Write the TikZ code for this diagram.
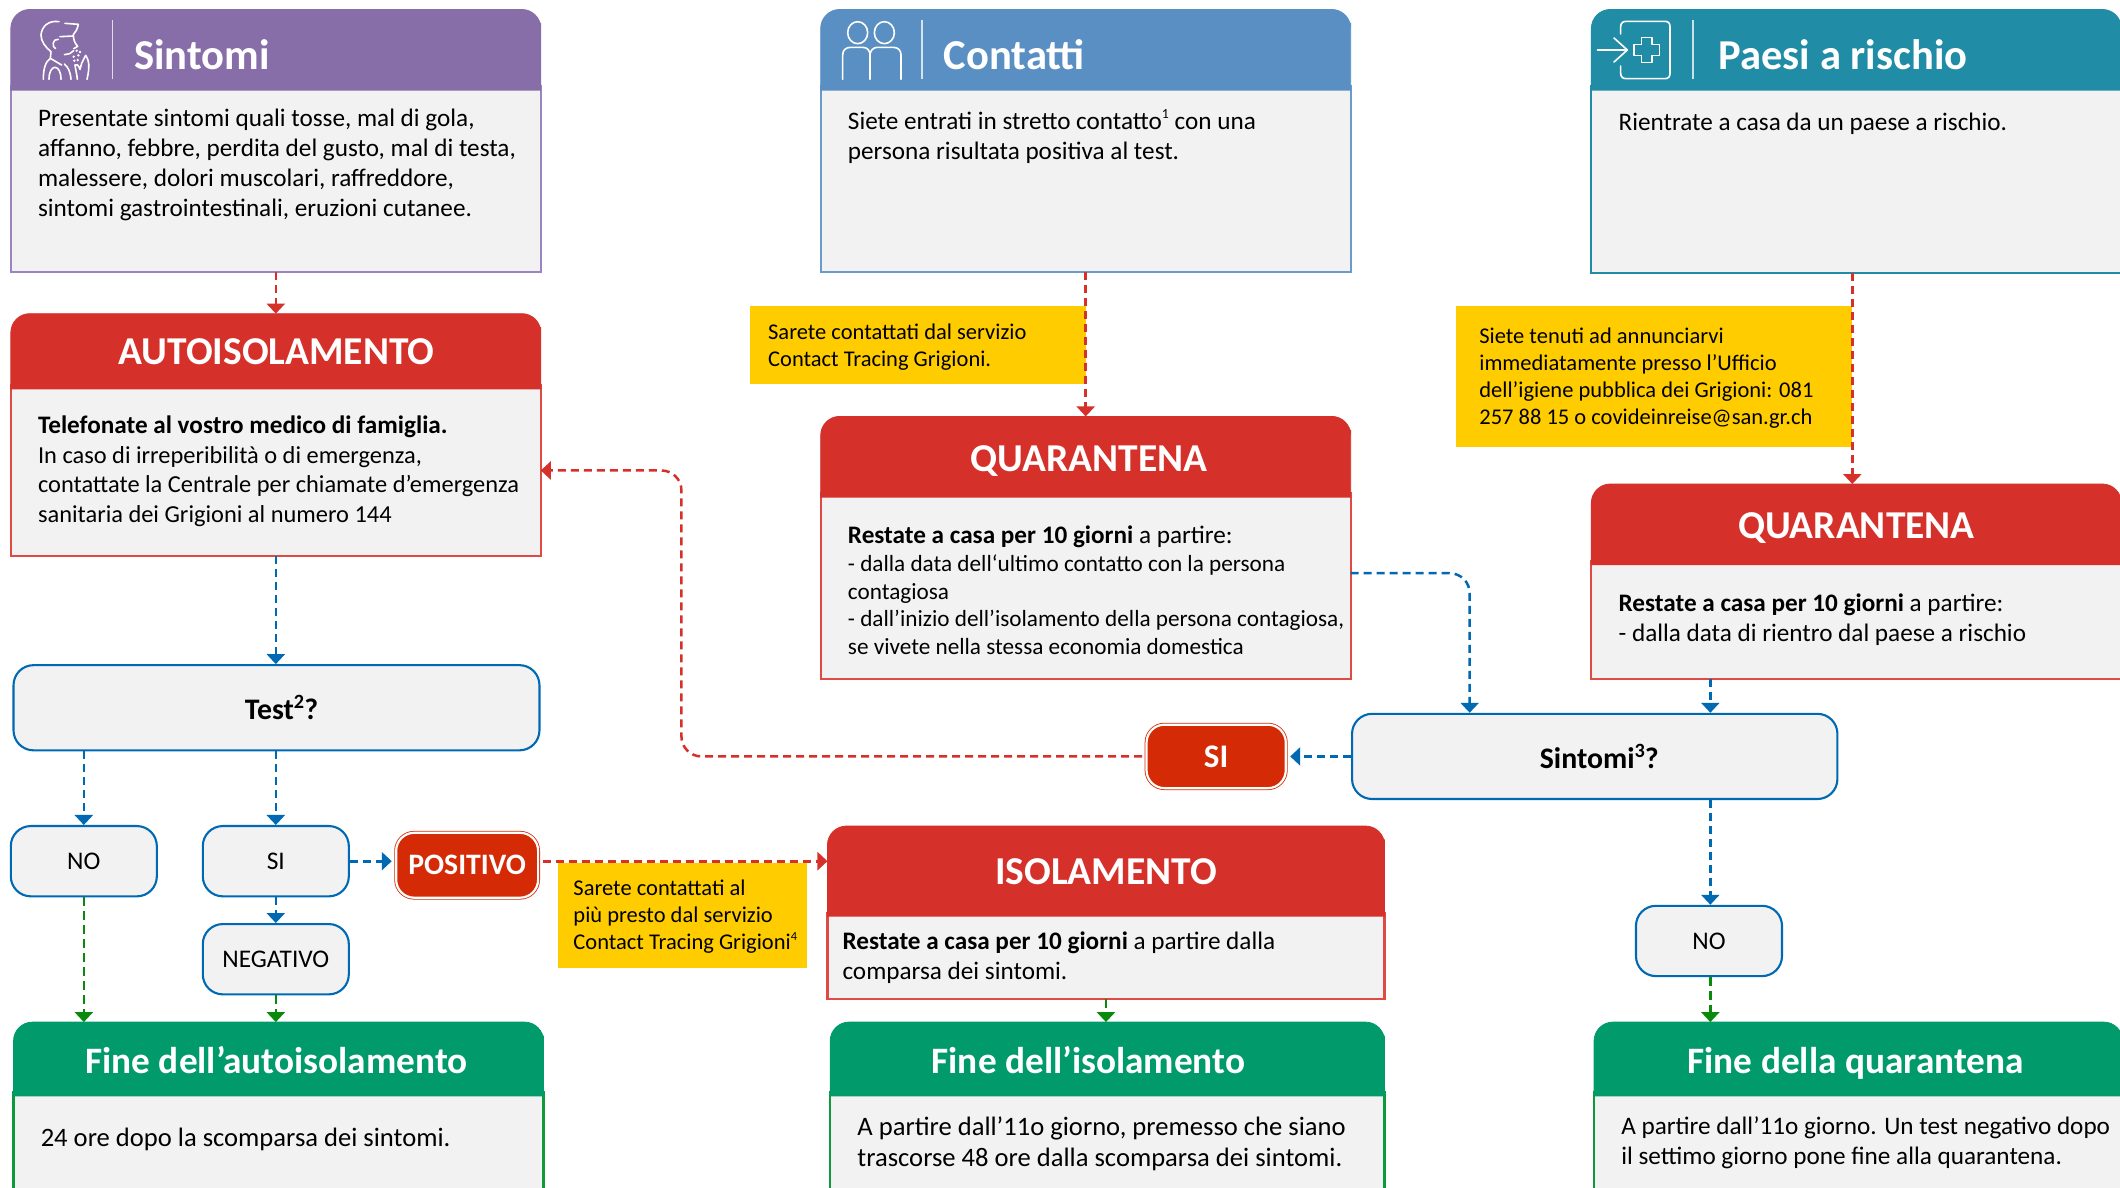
\documentclass[tikz,border=0pt]{standalone}
\usepackage{fontspec}
\setmainfont{Carlito}
\usetikzlibrary{arrows.meta,fit,calc}
\definecolor{panel}{HTML}{F2F2F2}
\definecolor{purh}{HTML}{886EA8}\definecolor{purb}{HTML}{9C84C0}
\definecolor{bluh}{HTML}{5A8FC3}\definecolor{blub}{HTML}{6A9CCB}
\definecolor{tealh}{HTML}{218CA6}\definecolor{tealb}{HTML}{218CA6}
\definecolor{redh}{HTML}{D5302A}\definecolor{redb}{HTML}{E04A44}
\definecolor{grnh}{HTML}{009A6B}\definecolor{grnb}{HTML}{0E9A3A}
\definecolor{flow}{HTML}{0069B4}
\definecolor{redb2}{HTML}{D42A06}
\definecolor{yel}{HTML}{FFCC00}
\definecolor{dgreen}{HTML}{0A8A0A}
\definecolor{dred}{HTML}{D5302A}
\newcommand\st{\rule{0pt}{20pt}}
\newcommand\sps[1]{\raisebox{0.4em}{\scalebox{0.55}{#1}}}
\newcommand\spb[1]{\raisebox{0.38em}{\scalebox{0.68}{#1}}}
\newcommand\card[8]{%
  \draw[draw=#8,fill=panel,line width=2.1pt] (#2,#5-3) rectangle (#4,#6);
  \fill[#7] (#2,#5) -- (#2,#3+24) [rounded corners=19pt] -- (#2,#3) -- (#4,#3) -- (#4,#3+24) [sharp corners] -- (#4,#5) -- cycle;
  \draw[draw=#7,line width=0.8pt] (#2,#5) -- (#2,#3+24) [rounded corners=19pt] -- (#2,#3) -- (#4,#3) -- (#4,#3+24) [sharp corners] -- (#4,#5);
  \node[fit={(#2,#3)(#4,#6)},inner sep=0pt,outer sep=0pt] (#1) {};
}
\tikzset{
  txt/.style={anchor=north west,inner sep=0pt,align=left,font=\fontsize{25.2}{30.2}\selectfont},
  txts/.style={anchor=north west,inner sep=0pt,align=left,font=\fontsize{23.2}{27.5}\selectfont},
  txtb/.style={anchor=north west,inner sep=0pt,align=left,font=\fontsize{26.6}{31}\selectfont},
  ynote/.style={anchor=north west,inner sep=0pt,align=left,font=\fontsize{22.5}{27}\selectfont},
  ybox/.style={fill=yel},
  head/.style={text=white,font=\fontsize{39.5}{48}\bfseries\selectfont,inner sep=0pt,anchor=base},
  headf/.style={text=white,font=\fontsize{37.3}{48}\bfseries\selectfont,inner sep=0pt,anchor=base},
  headl/.style={text=white,font=\fontsize{42.6}{48}\bfseries\selectfont,inner sep=0pt,anchor=base west},
  pill/.style={draw=flow,fill=panel,line width=2.1pt,rounded corners=20pt,inner sep=0pt,font=\fontsize{25.4}{30}\selectfont},
  qpill/.style={pill,font=\fontsize{29.8}{34}\bfseries\selectfont},
  rpill/.style={draw=redb2,double=white,double distance=2.2pt,line width=0.8pt,fill=redb2,rounded corners=18pt,inner sep=0pt,text=white,font=\fontsize{29.7}{34}\bfseries\selectfont},
  tip/.style={-{Triangle[length=10pt,width=18pt]}},
  rarr/.style={tip,draw=dred,line width=2.5pt,dash pattern=on 8pt off 5pt},
  barr/.style={tip,draw=flow,line width=2.5pt,dash pattern=on 8pt off 5pt},
  garr/.style={tip,draw=dgreen,line width=2.5pt,dash pattern=on 9pt off 5pt},
  ico/.style={draw=white,line width=1.6pt,line cap=round,line join=round},
  divi/.style={draw=white,draw opacity=0.75,line width=1.7pt},
}
\begin{document}
\begin{tikzpicture}[x=1.35204pt,y=-1.35194pt]
\fill[white] (0,0) rectangle (1568,878);
\clip (0,0) rectangle (1568,878);
\useasboundingbox (0,0) rectangle (1568,878);

% ---- cards
\card{sint}{8}{7}{400}{67}{201}{purh}{purb}
\card{cont}{607}{7}{999}{67}{201}{bluh}{blub}
\card{paesi}{1177}{7}{1569}{67}{202}{tealh}{tealb}
\card{auto}{8}{232}{400}{288}{411}{redh}{redb}
\card{qa}{607}{308}{999}{368}{502}{redh}{redb}
\card{qb}{1177}{358}{1569}{418}{502}{redh}{redb}
\card{iso}{612}{611}{1024}{678}{739}{redh}{redb}
\card{fa}{10}{756}{402}{811}{900}{grnh}{grnb}
\card{fb}{614}{756}{1024}{811}{900}{grnh}{grnb}
\card{fc}{1179}{756}{1570}{811}{900}{grnh}{grnb}

% ---- header titles
\node[headl] (tsint) at (99,51.2) {Sintomi};
\node[headl] (tcont) at (698,51.2) {Contatti};
\node[headl] (tpaesi) at (1271,51.2) {Paesi a rischio};
\node[head] (tauto) at (204.5,269.5) {AUTOISOLAMENTO};
\node[head] (tqa) at (805.5,348.5) {QUARANTENA};
\node[head] (tqb) at (1373,398.5) {QUARANTENA};
\node[head] (tiso) at (818,654.5) {ISOLAMENTO};
\node[headf] (tfa) at (204.5,794) {Fine dell’autoisolamento};
\node[headf] (tfb) at (805,794) {Fine dell’isolamento};
\node[headf] (tfc) at (1372.5,794) {Fine della quarantena};

% ---- header dividers
\draw[divi] (83.1,14.8) -- (83.1,58.4);
\draw[divi] (681.7,14.8) -- (681.7,58.4);
\draw[divi] (1252,14.8) -- (1252,58.4);

% ---- icon: coughing person
\begin{scope}[shift={(18.49,7.4)},x=0.33333pt,y=-0.33333pt,ico]
\draw (102,35) .. controls (70,30) and (50,50) .. (48,75) .. controls (48,95) and (62,112) .. (78,125) -- (76,145) .. controls (62,155) and (55,175) .. (55,208);
\draw (120,40) -- (160,43) .. controls (157,58) and (152,66) .. (145,74) .. controls (145,90) and (150,100) .. (158,109) -- (146,116);
\draw (105,80) -- (145,78);
\draw (146,122) -- (134,131) -- (118,134);
\draw (100,88) .. controls (82,85) and (80,112) .. (92,116);
\draw (76,145) -- (110,165);
\draw (72,208) .. controls (72,160) and (108,160) .. (108,208);
\draw (138,208) .. controls (136,185) and (130,172) .. (118,162);
\draw (157,208) .. controls (156,195) and (152,180) .. (150,165) .. controls (155,160) and (160,165) .. (165,178) -- (170,160) -- (182,136) .. controls (192,150) and (195,170) .. (186,208);
\fill[white] (155,122) circle (4) (165,126) circle (4) (146,140) circle (4) (160,136) circle (4) (158,150) circle (4) (148,152) circle (4);
\end{scope}

% ---- icon: two persons
\begin{scope}[shift={(606.5,7.4)},x=0.33333pt,y=-0.33333pt,ico]
\draw (113,68) ellipse (30 and 33);
\draw (193,68) ellipse (30 and 33);
\draw (68,208) -- (68,135) .. controls (68,120) and (78,112) .. (92,112) -- (128,112) .. controls (142,112) and (150,122) .. (150,135) -- (150,208);
\draw (150,135) .. controls (150,122) and (160,112) .. (172,112) -- (220,112) .. controls (235,112) and (243,122) .. (243,135) -- (243,208);
\end{scope}

% ---- icon: arrow into a box with a cross
\begin{scope}[shift={(1176,7.4)},x=0.33333pt,y=-0.33333pt,ico]
\draw (92,72) -- (92,50) .. controls (92,40) and (98,34) .. (108,34) -- (225,34) .. controls (235,34) and (240,40) .. (240,50) -- (240,190) .. controls (240,200) and (235,206) .. (225,206) -- (108,206) .. controls (98,206) and (92,200) .. (92,190) -- (92,168);
\draw (22,120) -- (112,120) (72,84) -- (112,120) -- (72,156);
\draw (154,82) -- (186,82) -- (186,104) -- (208,104) -- (208,136) -- (186,136) -- (186,158) -- (154,158) -- (154,136) -- (132,136) -- (132,104) -- (154,104) -- cycle;
\end{scope}

% ---- body texts
\node[txt] (bsint) at (28,78.5) {\st Presentate sintomi quali tosse, mal di gola,\\affanno, febbre, perdita del gusto, mal di testa,\\malessere, dolori muscolari, raffreddore,\\sintomi gastrointestinali, eruzioni cutanee.};
\node[txt] (bcont) at (627,80.5) {\st Siete entrati in stretto contatto\sps{1} con una\\persona risultata positiva al test.};
\node[txt] (bpaesi) at (1197,81.5) {\st Rientrate a casa da un paese a rischio.};
\node[txt,font=\fontsize{24.4}{29.8}\selectfont] (bauto) at (28,305.5) {\st\fontsize{25.2}{29.8}\selectfont\textbf{Telefonate al vostro medico di famiglia.}\\In caso di irreperibilità o di emergenza,\\contattate la Centrale per chiamate d’emergenza\\sanitaria dei Grigioni al numero 144};
\node[txt] (bqa1) at (627,387) {\st\textbf{Restate a casa per 10 giorni} a partire:};
\node[txts] (bqa2) at (627,408) {\st- dalla data dell‘ultimo contatto con la persona\\contagiosa\\- dall’inizio dell’isolamento della persona contagiosa,\\se vivete nella stessa economia domestica};
\node[txt] (bqb) at (1197,437) {\st\textbf{Restate a casa per 10 giorni} a partire:\\- dalla data di rientro dal paese a rischio};
\node[txt] (biso) at (623,687) {\st\textbf{Restate a casa per 10 giorni} a partire dalla\\comparsa dei sintomi.};
\node[txtb] (bfa) at (30,833) {\st 24 ore dopo la scomparsa dei sintomi.};
\node[txtb] (bfb) at (634,825) {\st A partire dall’11o giorno, premesso che siano\\trascorse 48 ore dalla scomparsa dei sintomi.};
\node[txt] (bfc) at (1199,824) {\st A partire dall’11o giorno. Un test negativo dopo\\il settimo giorno pone fine alla quarantena.};

% ---- yellow notes
\node[ybox,fit={(555,226)(803,284)},inner sep=0pt,outer sep=0pt] (ya) {};
\node[ybox,fit={(1077,226)(1370,331)},inner sep=0pt,outer sep=0pt] (yb) {};
\node[ybox,fit={(413,638)(597,716)},inner sep=0pt,outer sep=0pt] (yc) {};
\node[ynote] (yat) at (568,236) {\st Sarete contattati dal servizio\\Contact Tracing Grigioni.};
\node[ynote] (ybt) at (1094,239) {\st Siete tenuti ad annunciarvi\\immediatamente presso l’Ufficio\\dell’igiene pubblica dei Grigioni: 081\\257 88 15 o covideinreise@san.gr.ch};
\node[ynote] (yct) at (424,647.5) {\st Sarete contattati al\\più presto dal servizio\\Contact Tracing Grigioni\sps{4}};

% ---- decision nodes
\node[qpill,minimum width={389*1.352},minimum height={63*1.352}] (test) at (204.5,523.5) {\hspace*{10pt}Test\spb{2}?};
\node[qpill,minimum width={359*1.352},minimum height={63*1.352}] (sq) at (1179.5,559.5) {\hspace*{9pt}Sintomi\spb{3}?};
\node[pill,minimum width={108*1.352},minimum height={52*1.352}] (no1) at (62,637) {NO};
\node[pill,minimum width={108*1.352},minimum height={52*1.352}] (si1) at (204,637) {SI};
\node[pill,minimum width={108*1.352},minimum height={52*1.352}] (neg) at (204,709.5) {NEGATIVO};
\node[pill,minimum width={108*1.352},minimum height={52*1.352}] (no2) at (1264,696) {NO};
\node[rpill,minimum width={105*1.352},minimum height={48*1.352}] (pos) at (345.5,640) {POSITIVO};
\node[rpill,minimum width={103*1.352},minimum height={47*1.352},font=\fontsize{33}{36}\bfseries\selectfont] (si2) at (899.5,559.5) {SI};

% ---- connectors
\coordinate (xa) at (62,0);
\coordinate (xb) at (1370,0);
\coordinate (xc) at (1087,0);
\coordinate (xd) at (1265,0);
\coordinate (xe) at (818,0);
\coordinate (xf) at (504,0);
\coordinate (ya1) at (0,424);
\coordinate (ya2) at (0,348);
\draw[rarr] (sint.south) -- (auto.north);
\draw[rarr] (cont.south) -- (qa.north);
\draw[rarr] (paesi.south -| xb) -- (qb.north -| xb);
\draw[barr] (auto.south) -- (test.north -| auto.south);
\draw[barr] (test.south -| xa) -- (no1.north);
\draw[barr] (test.south -| si1.north) -- (si1.north);
\draw[barr,line width=3pt] (si1.east) -- ([xshift=-4pt]pos.west |- si1.east);
\draw[barr] (si1.south) -- (neg.north);
\draw[rarr,line width=3pt] ([xshift=4pt]pos.east |- si1.east) -- (iso.west |- si1.east);
\draw[garr] (no1.south) -- (fa.north -| no1.south);
\draw[garr] (neg.south) -- (fa.north -| neg.south);
\draw[garr] (iso.south -| xe) -- (fb.north -| xe);
\draw[barr,rounded corners=20pt] (qa.east |- ya1) -- (xc |- ya1) -- (sq.north -| xc);
\draw[barr] (qb.south -| xd) -- (sq.north -| xd);
\draw[barr,line width=3pt] (sq.west) -- ([xshift=4pt]si2.east |- sq.west);
\draw[rarr,rounded corners=20pt] ([xshift=-4pt]si2.west) -- (si2.west -| xf) -- (xf |- ya2) -- (auto.east |- ya2);
\draw[barr] (sq.south -| xd) -- (no2.north -| xd);
\draw[garr] (no2.south -| xd) -- (fc.north -| xd);
\end{tikzpicture}
\end{document}
